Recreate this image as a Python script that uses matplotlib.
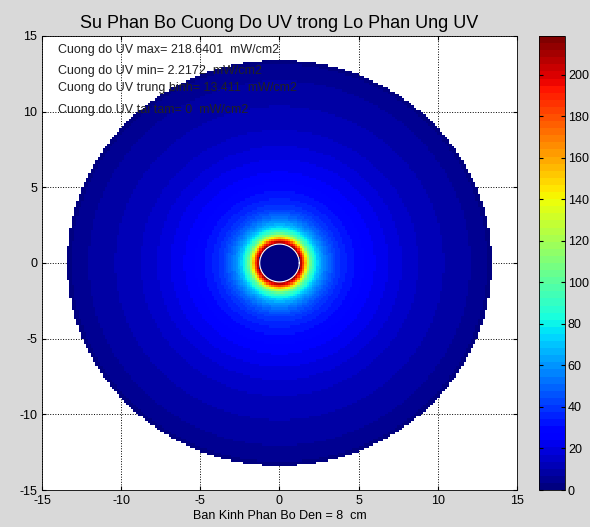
import numpy as np
import matplotlib
matplotlib.use('Agg')
import matplotlib.pyplot as plt

# radial UV intensity profile (cm, mW/cm2)
radius_cm = [1.25, 1.4, 1.5, 1.6, 1.7, 1.8, 1.9, 2.0, 2.2, 2.4, 2.7,
             3.0, 3.5, 4.0, 5.0, 6.0, 7.0, 8.0, 9.0, 10.0, 11.0, 12.0, 13.0, 13.4]
intensity = [218.6, 200, 185, 165, 145, 125, 110, 98, 85, 72, 60,
             52, 42, 36, 29, 24, 20, 16, 13, 11, 9, 7, 4, 2.2]
lamp_radius = 1.25
reactor_radius = 13.4
center_value = 0.0

info_lines = ['Cuong do UV max= 218.6401  mW/cm2',
              'Cuong do UV min= 2.2172  mW/cm2',
              'Cuong do UV trung binh= 13.411  mW/cm2',
              'Cuong do UV tai tam= 0  mW/cm2']
info_y = [14.1, 12.7, 11.55, 10.1]
cbar_ticks = [0, 20, 40, 60, 80, 100, 120, 140, 160, 180, 200]
axis_ticks = [-15, -10, -5, 0, 5, 10, 15]

plt.rcParams['font.family'] = ['Liberation Sans', 'DejaVu Sans']
plt.rcParams['axes.unicode_minus'] = False
bg = '#d9d9d9'

fig = plt.figure(figsize=(5.9, 5.27), dpi=100, facecolor=bg)
ax = fig.add_axes([0.0712, 0.0702, 0.805, 0.8615])
cax = fig.add_axes([0.9136, 0.0702, 0.0441, 0.8615])

# grid over the reactor cross section
g = np.arange(-15, 15.001, 0.15)
X, Y = np.meshgrid(g, g)
R = np.hypot(X, Y)
Z = np.interp(R, radius_cm, intensity)
Z[R < lamp_radius] = center_value
Z = np.ma.masked_where(R > reactor_radius, Z)

cmap = plt.get_cmap('jet', 64)
mesh = ax.pcolormesh(X, Y, Z, cmap=cmap, vmin=0, vmax=max(intensity),
                     shading='auto', zorder=2)

th = np.linspace(0, 2 * np.pi, 200)
ax.plot(lamp_radius * np.cos(th), lamp_radius * np.sin(th), color='white',
        lw=0.8, zorder=3)

ax.set_xlim(-15, 15)
ax.set_ylim(-15, 15)
ax.set_xticks(axis_ticks)
ax.set_yticks(axis_ticks)
ax.set_axisbelow(True)
ax.grid(True, color='black', linestyle=':', linewidth=0.7)
ax.tick_params(direction='in', top=True, right=True, labelsize=9, length=3)
for s in ax.spines.values():
    s.set_linewidth(0.6)
    s.set_zorder(4)

ax.set_title('Su Phan Bo Cuong Do UV trong Lo Phan Ung UV', fontsize=13, pad=6)
ax.set_xlabel('Ban Kinh Phan Bo Den = 8  cm', fontsize=9, labelpad=2)

for txt, yy in zip(info_lines, info_y):
    ax.text(-14.0, yy, txt, fontsize=9, va='center', ha='left',
            color='#222222', zorder=5)

cb = fig.colorbar(mesh, cax=cax, ticks=cbar_ticks)
cb.outline.set_linewidth(0.6)
cax.tick_params(direction='in', left=True, right=True, labelsize=9, length=3, pad=2)

fig.savefig('out.png', dpi=100, facecolor=bg)
